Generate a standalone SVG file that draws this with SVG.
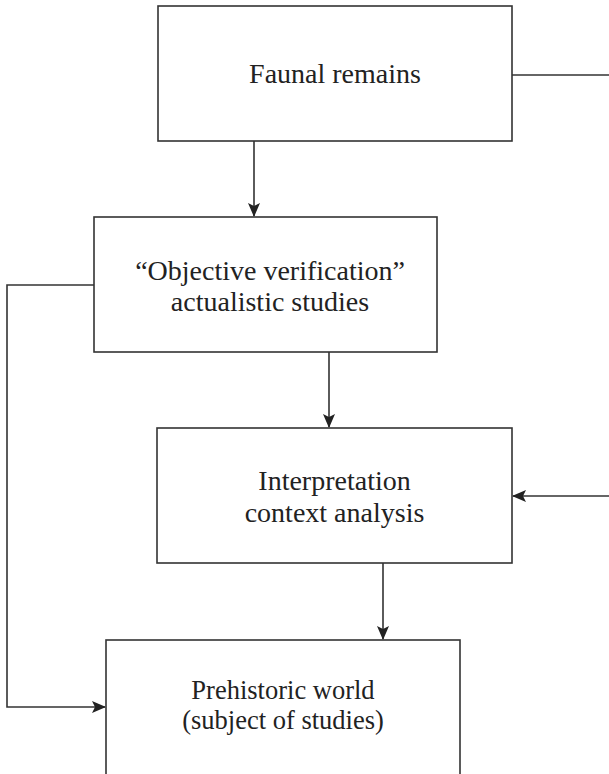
<svg xmlns="http://www.w3.org/2000/svg" width="609" height="774" viewBox="0 0 609 774">
<style>
.box{fill:#fff;stroke:#333;stroke-width:1.6}
.lbl{font-family:"Liberation Serif","DejaVu Serif",serif;font-size:28px;fill:#222;text-anchor:middle}
.sm{font-size:26.5px}
.c{fill:none;stroke:#333;stroke-width:1.6}
</style>
<defs>
<marker id="ah" markerWidth="14" markerHeight="12" refX="13" refY="6" orient="auto" markerUnits="userSpaceOnUse">
<path d="M0,0 L14,6 L0,12 L3,6 Z" fill="#222"/>
</marker>
</defs>
<rect width="609" height="774" fill="#fff"/>
<g id="connectors">
<path class="c" d="M512,75 H609"/>
<path class="c" d="M254,141 V216" marker-end="url(#ah)"/>
<path class="c" d="M94,285 H7 V707 H105" marker-end="url(#ah)"/>
<path class="c" d="M329,352 V427" marker-end="url(#ah)"/>
<path class="c" d="M609,496 H513" marker-end="url(#ah)"/>
<path class="c" d="M383,563 V639" marker-end="url(#ah)"/>
</g>
<g id="faunal">
<rect class="box" x="158" y="6" width="354" height="135"/>
<text class="lbl" x="335" y="83">Faunal remains</text>
</g>
<g id="objective">
<rect class="box" x="94" y="217" width="343" height="135"/>
<text class="lbl" x="270" y="280">“Objective verification”</text>
<text class="lbl" x="270" y="311">actualistic studies</text>
</g>
<g id="interpretation">
<rect class="box" x="157" y="428" width="355" height="135"/>
<text class="lbl" x="334.5" y="490">Interpretation</text>
<text class="lbl" x="334.5" y="522">context analysis</text>
</g>
<g id="prehistoric">
<rect class="box" x="106" y="640" width="354" height="150"/>
<text class="lbl sm" x="283" y="699">Prehistoric world</text>
<text class="lbl sm" x="283" y="729">(subject of studies)</text>
</g>
</svg>
